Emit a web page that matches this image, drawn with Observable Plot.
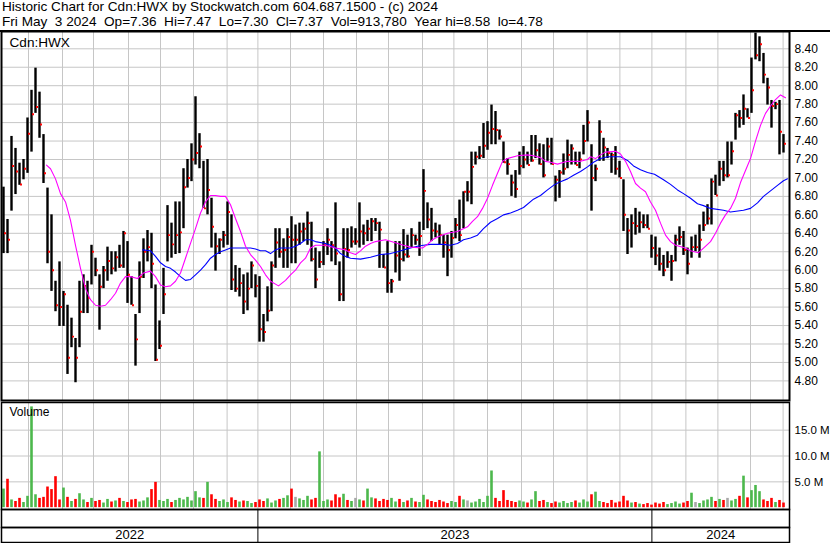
<!DOCTYPE html>
<html><head><meta charset="utf-8">
<script src="https://cdn.jsdelivr.net/npm/d3@7"></script>
<script src="https://cdn.jsdelivr.net/npm/@observablehq/plot@0.6"></script>
<style>
html,body{margin:0;padding:0;background:#fff;}
#wrap{position:relative;width:830px;height:543px;overflow:hidden;font-family:"Liberation Sans",Arial,sans-serif;background:#fff;}
#wrap svg{position:absolute;left:0;top:0;}
.hdr{position:absolute;left:2px;font-size:13.6px;white-space:pre;line-height:14px;color:#000;}
#topline{position:absolute;left:0;top:30px;width:830px;height:2px;background:#000;}
</style></head><body>
<div id="wrap">
 <div class="hdr" id="h1" style="top:0px"></div>
 <div class="hdr" id="h2" style="top:15px"></div>
 <div id="topline"></div>
</div>
<script>
const title = "Historic Chart for Cdn:HWX by Stockwatch.com 604.687.1500 - (c) 2024";
const subtitle = "Fri May  3 2024  Op=7.36  Hi=7.47  Lo=7.30  Cl=7.37  Vol=913,780  Year hi=8.58  lo=4.78";
const symbolLabel = "Cdn:HWX";
const volumeLabel = "Volume";

// price bars (one bar ≈ 2.5 sessions), May 2022 .. May 3 2024
const high = [6.90,6.55,7.45,7.32,7.16,7.20,7.65,7.95,8.19,7.93,7.47,6.89,6.60,5.88,6.09,5.77,5.62,5.48,5.26,5.88,
5.95,5.88,6.27,6.13,5.95,6.04,6.25,6.20,6.20,6.27,6.42,6.31,5.93,5.52,6.09,6.34,6.43,6.40,5.84,5.45,
6.02,6.70,6.51,6.74,6.74,7.10,7.20,7.37,7.88,7.48,7.18,7.20,6.78,6.40,6.34,6.42,6.74,6.60,6.05,6.02,
5.95,5.97,6.09,5.95,5.93,5.52,5.82,6.09,6.45,6.45,6.34,6.45,6.58,6.49,6.51,6.51,6.63,6.52,6.24,6.20,
6.31,6.45,6.31,6.73,6.09,6.45,6.45,6.47,6.45,6.73,6.49,6.54,6.56,6.56,6.52,6.17,6.31,5.90,6.31,6.31,
6.44,6.38,6.45,6.38,6.52,7.09,6.73,6.67,6.51,6.49,6.38,6.38,6.42,6.56,6.76,6.85,6.96,7.28,7.28,7.34,
7.59,7.61,7.79,7.72,7.52,7.39,7.21,7.03,7.08,7.28,7.34,7.28,7.46,7.46,7.37,7.36,7.43,7.43,7.02,7.08,
7.26,7.41,7.36,7.28,7.28,7.57,7.73,7.36,7.14,7.62,7.43,7.32,7.27,7.34,7.18,6.98,6.56,6.60,6.67,6.63,
6.60,6.60,6.38,6.36,6.24,6.16,6.20,6.16,6.38,6.47,6.42,6.24,6.36,6.38,6.49,6.63,6.71,6.99,7.03,7.18,
7.18,7.39,7.39,7.70,7.73,7.90,7.75,8.30,8.57,8.53,8.35,8.08,7.84,7.82,7.84,7.47];
const low = [6.18,6.18,6.64,6.82,6.92,6.98,7.05,7.28,7.70,7.43,6.94,6.07,5.77,5.55,5.39,5.39,4.87,5.16,4.78,5.16,
5.53,5.53,5.84,5.93,5.35,5.80,5.88,5.95,5.98,6.02,6.02,5.64,5.62,4.96,5.53,5.91,6.09,5.80,5.01,5.14,
5.52,6.09,6.13,6.17,6.18,6.45,6.89,6.96,7.14,7.10,6.67,6.60,6.24,5.99,6.17,6.24,6.27,5.78,5.76,5.71,
5.52,5.56,5.80,5.70,5.22,5.22,5.44,5.55,6.02,6.13,6.02,6.02,6.07,6.07,6.27,6.31,6.27,6.09,5.80,6.02,
6.05,6.16,6.09,6.05,5.66,5.66,6.13,6.24,6.27,6.24,6.27,6.31,6.31,6.42,6.02,6.02,5.75,5.75,5.97,5.88,
6.09,6.13,6.24,6.27,6.15,6.43,6.45,6.31,6.35,6.27,6.13,5.93,6.13,6.34,6.31,6.45,6.74,6.71,7.14,7.20,
7.21,7.30,7.36,7.36,7.41,7.16,7.03,6.80,6.78,7.03,7.10,7.14,7.17,7.21,7.14,7.00,7.18,7.14,6.74,6.78,
7.03,7.10,7.14,7.14,7.10,7.25,7.39,6.64,6.96,7.18,7.18,7.21,7.05,7.03,7.00,6.42,6.17,6.24,6.38,6.40,
6.45,6.45,6.13,6.05,5.99,5.93,6.02,5.88,6.09,6.27,6.16,5.95,6.13,6.20,6.13,6.42,6.49,6.49,6.81,6.91,
6.96,7.00,7.14,7.41,7.54,7.57,7.65,7.70,8.28,8.26,8.02,7.79,7.54,7.74,7.25,7.27];
const close = [6.40,6.33,7.13,7.07,6.93,7.10,7.48,7.69,7.77,7.58,7.05,6.20,6.00,5.62,5.60,5.74,5.05,5.28,5.05,5.55,
5.83,5.70,6.20,6.00,5.82,6.00,6.10,6.02,6.14,6.05,6.40,5.95,5.62,5.25,5.93,6.20,6.25,6.07,5.03,5.18,
5.74,6.38,6.28,6.38,6.41,6.90,7.00,7.20,7.27,7.34,6.67,6.87,6.47,6.26,6.33,6.38,6.63,5.90,5.80,5.86,
5.66,5.80,6.05,5.83,5.36,5.33,5.56,6.05,6.30,6.20,6.22,6.36,6.33,6.33,6.42,6.45,6.51,6.12,5.90,6.09,
6.27,6.33,6.27,6.18,5.74,6.23,6.22,6.31,6.31,6.42,6.40,6.45,6.53,6.51,6.44,6.03,5.86,5.88,6.16,6.12,
6.17,6.15,6.38,6.33,6.37,6.86,6.55,6.43,6.42,6.38,6.30,6.22,6.35,6.49,6.38,6.85,6.85,7.12,7.23,7.24,
7.35,7.49,7.53,7.52,7.45,7.17,7.15,6.95,6.88,7.13,7.20,7.14,7.19,7.30,7.15,7.03,7.34,7.15,6.98,7.06,
7.10,7.25,7.32,7.14,7.20,7.40,7.60,7.00,7.10,7.50,7.33,7.27,7.25,7.10,7.00,6.60,6.43,6.51,6.48,6.52,
6.49,6.45,6.24,6.16,6.07,6.00,6.09,6.10,6.33,6.36,6.22,6.07,6.25,6.25,6.33,6.49,6.56,6.96,6.81,7.10,
7.03,7.03,7.29,7.68,7.65,7.75,7.65,7.95,8.33,8.45,8.12,7.98,7.78,7.80,7.50,7.37];
// volume in millions, same bars
const volume = [3.6,5.5,1.5,1.2,1.8,1.0,2.2,19.5,2.5,1.8, 2.0,4.0,3.5,6.0,1.5,3.8,2.0,1.2,1.6,2.7,
1.5,1.0,1.8,1.2,1.4,0.9,1.6,1.1,1.3,1.8, 1.2,1.0,1.5,1.6,1.1,1.3,1.9,3.5,4.9,1.4,
1.2,1.6,1.0,1.4,1.8,1.5,2.0,1.3,3.1,1.9, 1.8,4.9,2.5,1.6,1.2,1.5,1.0,1.9,1.4,1.1,
1.3,1.2,0.8,1.0,1.5,1.2,1.7,0.9,1.3,1.6, 1.8,2.3,3.6,2.0,1.7,1.4,2.2,1.5,1.8,10.8,
1.2,1.5,1.3,2.5,1.9,2.6,1.4,1.2,1.8,1.5, 1.3,3.6,1.9,1.7,1.2,1.6,1.4,1.8,1.1,1.6,
1.0,1.3,1.8,1.1,1.0,2.4,1.5,1.2,1.0,1.4, 1.1,0.8,1.2,1.0,2.2,1.5,1.3,0.9,1.1,1.6,
1.0,2.2,7.1,1.8,1.2,3.3,1.4,1.2,1.0,1.3, 1.1,0.9,1.5,3.1,1.2,1.4,1.0,0.8,1.1,0.9,
1.2,0.8,1.0,1.3,0.9,1.5,1.1,2.5,3.0,1.2, 1.0,0.8,1.4,0.9,1.1,2.2,1.3,0.9,1.0,0.7,
0.6,0.8,0.5,0.9,0.7,1.0,0.6,0.8,1.1,0.7, 0.9,1.2,2.8,1.0,0.8,1.3,1.5,2.0,1.2,1.6,
1.4,1.8,1.3,1.6,2.2,6.1,1.9,3.3,4.3,3.1, 1.5,1.2,1.8,1.0,1.4,0.9];

// moving averages: [bar index, value]
const maShort = [[10.75,7.14],[11.75,7.10],[13,6.99],[14.25,6.83],[15.5,6.74],[16.75,6.54],[18,6.27],[19.25,6.02],[20.5,5.80],[21.75,5.68],
[23,5.62],[24.25,5.61],[25.5,5.62],[26.75,5.68],[28,5.75],[29.25,5.86],[30.5,5.93],[31.75,5.93],[33.5,5.91],[35,5.97],
[36.75,5.99],[38,5.93],[39.25,5.84],[40.5,5.82],[41.75,5.83],[43,5.88],[44.25,5.97],[45.5,6.13],[46.75,6.29],[48,6.45],
[49.25,6.62],[50.5,6.74],[51.75,6.81],[53,6.81],[54.25,6.80],[55.5,6.80],[56.75,6.71],[58,6.56],[59.25,6.42],[60.5,6.26],
[61.75,6.17],[63,6.11],[64.25,6.04],[65.5,5.95],[66.75,5.88],[68.75,5.83],[70.5,5.89],[71.75,5.95],[73,6.00],[74.25,6.08],
[75.5,6.13],[76.75,6.24],[78,6.27],[80.5,6.27],[83,6.24],[85.5,6.22],[86.75,6.19],[88,6.17],[89.25,6.21],[90.5,6.26],
[91.75,6.29],[93,6.31],[95.5,6.33],[97.75,6.30],[100,6.27],[101.75,6.25],[104.75,6.24],[106,6.28],[107.25,6.33],[108.5,6.36],
[111,6.40],[113.5,6.42],[116,6.47],[117.25,6.53],[118.5,6.58],[119.75,6.67],[121,6.78],[122.25,6.92],[123.5,7.05],[124.75,7.18],
[126,7.21],[128.5,7.24],[131,7.25],[132.5,7.24],[134.25,7.22],[135.5,7.18],[136.75,7.17],[138.5,7.15],[141,7.18],[144.25,7.18],
[146,7.20],[146.75,7.23],[148,7.21],[149.25,7.25],[150.5,7.28],[153,7.29],[154.25,7.26],[155.5,7.18],[156.75,7.07],[158,6.94],
[159.25,6.89],[160.5,6.85],[161.75,6.74],[163,6.65],[164.25,6.51],[165.5,6.38],[166.75,6.31],[168,6.27],[170.5,6.24],[171.75,6.21],
[173.75,6.19],[175,6.24],[176.75,6.31],[178,6.40],[179.25,6.51],[180.5,6.60],[181.75,6.67],[183,6.78],[184.25,6.95],[185.5,7.08],
[186.75,7.21],[188,7.40],[189.25,7.57],[190.5,7.70],[191.75,7.78],[193,7.85],[194.25,7.90],[195.5,7.87]];
const maLong = [[34.75,6.22],[36.75,6.21],[38,6.15],[39.25,6.08],[40.5,6.04],[41.75,6.02],[43,5.98],[44.25,5.93],[45.5,5.89],[46.75,5.90],
[48,5.95],[49.25,6.00],[50.5,6.06],[51.75,6.13],[53,6.17],[54.25,6.20],[55.5,6.22],[56.75,6.24],[61.75,6.24],[63,6.23],
[64.25,6.21],[65.5,6.21],[66.75,6.18],[68,6.22],[69.25,6.24],[71.75,6.24],[73,6.26],[74.25,6.29],[75.5,6.33],[76.75,6.33],
[78,6.31],[80.5,6.29],[81.75,6.27],[83,6.24],[84.25,6.18],[85.5,6.15],[86.75,6.13],[89.25,6.12],[91.75,6.14],[94.25,6.17],
[96.75,6.18],[98.5,6.20],[100,6.22],[101.75,6.24],[103.5,6.26],[105,6.27],[106.75,6.28],[110,6.28],[111.75,6.27],[113.5,6.29],
[115,6.33],[116.75,6.35],[118.5,6.38],[120,6.45],[121.75,6.52],[123.5,6.56],[125,6.60],[126.75,6.62],[128.5,6.65],[130,6.68],
[132.5,6.77],[134.25,6.81],[136,6.87],[137.5,6.92],[139.25,6.96],[141,6.99],[142.5,7.03],[144.25,7.07],[146,7.12],[147.5,7.17],
[149.25,7.21],[151,7.23],[154.25,7.23],[156,7.19],[157.5,7.13],[159.25,7.09],[161,7.06],[162.75,7.04],[165,6.98],[166.75,6.93],
[168.5,6.87],[170,6.83],[171.75,6.78],[173.5,6.72],[175,6.70],[176.75,6.67],[180,6.65],[181.75,6.63],[185,6.65],[186.75,6.67],
[188.5,6.73],[190,6.80],[191.75,6.86],[193.5,6.92],[195,6.97],[196,6.99]];

// month starts (bar index) and year starts
const monthTicks = [6.25,14.75,22.5,31.25,39.25,47.5,55.9,63.6,71.75,80,88.25,96.25,104.75,112.6,121,129.5,137.5,145.9,154.1,162.1,170.6,178.6,186.75,194.9];
const years = ["2022","2023","2024"];
const yearStarts = [-0.5, 63.6, 162.1];
const xEnd = 196.5;
const priceTicks = [4.8,5.0,5.2,5.4,5.6,5.8,6.0,6.2,6.4,6.6,6.8,7.0,7.2,7.4,7.6,7.8,8.0,8.2,8.4];
const volTicks = [5,10,15];

document.getElementById("h1").textContent = title;
document.getElementById("h2").textContent = subtitle;

const bars = high.map((h,i)=>({i, high:h, low:low[i], close:close[i], vol:volume[i],
  dir: i===0 ? "u" : (close[i] > close[i-1] ? "u" : close[i] < close[i-1] ? "d" : "n")}));

const W = 830, H = 543;
const xScale = {type:"linear", domain:[yearStarts[0], xEnd], axis:null};
const style = {fontFamily:'"Liberation Sans", Arial, sans-serif', fontSize:"12px", color:"#000", background:"transparent", overflow:"visible"};
const gridStroke = "#c6c6c6";

const price = Plot.plot({
  width:W, height:H, marginTop:31, marginBottom:143, marginLeft:1, marginRight:41,
  x:xScale, y:{domain:[4.5875,8.5875], axis:null, label:null}, style,
  marks:[
    Plot.gridX(monthTicks,{stroke:gridStroke, strokeOpacity:1}),
    Plot.gridY(priceTicks,{stroke:gridStroke, strokeOpacity:1}),
    Plot.ruleX(bars,{x:"i", y1:"low", y2:"high", stroke:"#000", strokeWidth:2.4}),
    Plot.dot(bars,{x:"i", y:"close", symbol:"square", r:1.1, fill:"#ff0000", stroke:null, dx:1.5}),
    Plot.line(maLong,{x:d=>d[0], y:d=>d[1], stroke:"#0000ff", strokeWidth:1.1}),
    Plot.line(maShort,{x:d=>d[0], y:d=>d[1], stroke:"#ff00ff", strokeWidth:1.1}),
    Plot.axisY(priceTicks,{anchor:"right", label:null, tickSize:0, tickPadding:5, tickFormat:d=>d.toFixed(2), fontSize:12}),
    Plot.text([symbolLabel],{frameAnchor:"top-left", dx:8, dy:6, fontSize:13.6, lineAnchor:"top", textAnchor:"start"}),
    Plot.frame({stroke:"#000", strokeWidth:2})
  ]
});

const vol = Plot.plot({
  width:W, height:H, marginTop:402, marginBottom:34, marginLeft:1, marginRight:41,
  x:xScale, y:{domain:[-0.35,20.35], axis:null, label:null},
  color:{domain:["d","u","n"], range:["#ff0000","#4cb84c","#a8a8a8"]}, style,
  marks:[
    Plot.gridX(monthTicks,{stroke:gridStroke, strokeOpacity:1}),
    Plot.gridY(volTicks,{stroke:gridStroke, strokeOpacity:1}),
    Plot.ruleX(bars,{x:"i", y1:d=>0, y2:"vol", stroke:"dir", strokeWidth:2.6}),
    Plot.axisY(volTicks,{anchor:"right", label:null, tickSize:0, tickPadding:5, tickFormat:d=>d.toFixed(1)+" M", fontSize:11.5}),
    Plot.text([volumeLabel],{frameAnchor:"top-left", dx:8, dy:5, fontSize:12, lineAnchor:"top", textAnchor:"start"}),
    Plot.frame({stroke:"#000", strokeWidth:1.5})
  ]
});

const band = Plot.plot({
  width:W, height:H, marginTop:509, marginBottom:16, marginLeft:1, marginRight:41,
  x:xScale, y:{domain:[0,1], axis:null}, style,
  marks:[
    Plot.ruleX(yearStarts.slice(1),{stroke:"#000", strokeWidth:1}),
    Plot.frame({stroke:"#000", strokeWidth:1.5})
  ]
});

const yearData = years.map((y,k)=>({label:y, from:yearStarts[k], to:(k+1<yearStarts.length? yearStarts[k+1] : xEnd)}));
const band2 = Plot.plot({
  width:W, height:H, marginTop:527, marginBottom:1, marginLeft:1, marginRight:41,
  x:xScale, y:{domain:[0,1], axis:null}, style,
  marks:[
    Plot.ruleX(yearStarts.slice(1),{stroke:"#000", strokeWidth:1}),
    Plot.text(yearData,{x:d=>(d.from+d.to)/2, text:"label", frameAnchor:"middle", fontSize:13}),
    Plot.frame({stroke:"#000", strokeWidth:1.5})
  ]
});

const wrap = document.getElementById("wrap");
[price, vol, band, band2].forEach(s => wrap.appendChild(s));
</script>
</body></html>
